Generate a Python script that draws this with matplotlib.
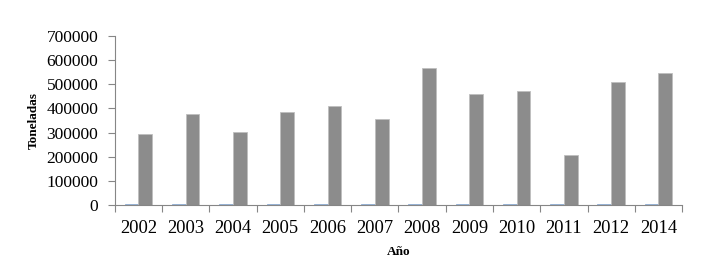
import numpy as np
import matplotlib
matplotlib.use('Agg')
import matplotlib.pyplot as plt

# Data
years = ['2002', '2003', '2004', '2005', '2006', '2007',
         '2008', '2009', '2010', '2011', '2012', '2014']
serie_azul = [5000, 5000, 5000, 5000, 5000, 5000,
              5000, 5000, 5000, 5000, 5000, 5000]
serie_gris = [293500, 377600, 303100, 387200, 409300, 355500,
              567700, 461600, 471300, 205300, 511200, 545700]
y_ticks = [0, 100000, 200000, 300000, 400000, 500000, 600000, 700000]

plt.rcParams['font.family'] = ['Liberation Serif', 'DejaVu Serif']

fig = plt.figure(figsize=(7.09, 2.71), dpi=100)
ax = fig.add_axes([0.162, 0.2435, 0.8, 0.6235])

x = np.arange(len(years))
w = 0.29
ax.bar(x - w / 2, serie_azul, width=w, color='#4F81BD', edgecolor='#95B3D7', linewidth=0.6)
ax.bar(x + w / 2, serie_gris, width=w, color='#8C8C8C', edgecolor='#BFBFBF', linewidth=0.6)

ax.set_xlim(-0.5, len(years) - 0.5)
ax.set_ylim(0, 700000)
ax.set_yticks(y_ticks)
ax.set_yticklabels([str(v) for v in y_ticks], fontsize=12.5)

# category labels centered, ticks at the category boundaries
ax.set_xticks(x)
ax.set_xticklabels(years, fontsize=13.3)
ax.set_xticks(np.arange(len(years) + 1) - 0.5, minor=True)
ax.tick_params(axis='x', which='major', length=0, pad=11)
ax.tick_params(axis='x', which='minor', length=5, color='#868686', width=0.8)
ax.tick_params(axis='y', length=5, color='#868686', width=0.8, pad=7)

for side in ('top', 'right'):
    ax.spines[side].set_visible(False)
for side in ('left', 'bottom'):
    ax.spines[side].set_color('#868686')
    ax.spines[side].set_linewidth(0.8)

ax.set_xlabel('Año', fontsize=9.5, fontweight='bold', labelpad=6.5)
ax.set_ylabel('Toneladas', fontsize=9.5, fontweight='bold', labelpad=4.5)

fig.savefig('out.png', dpi=100)
